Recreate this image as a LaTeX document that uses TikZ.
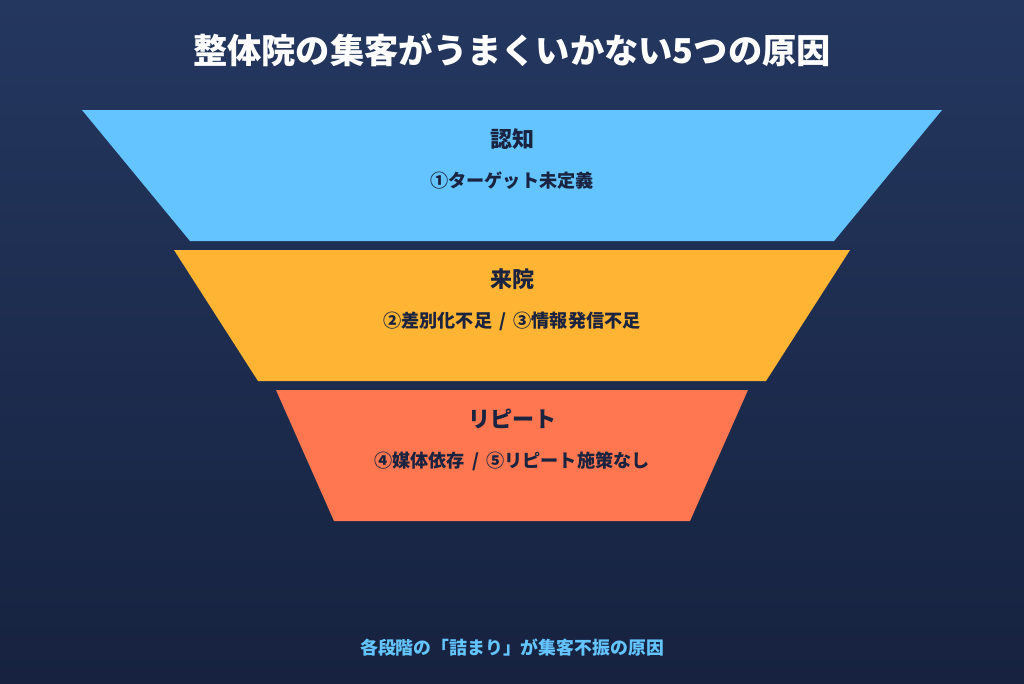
\documentclass[tikz,border=0pt]{standalone}
\usepackage{fontspec}
\setmainfont{Noto Sans CJK JP}
\usepackage{xcolor}
\usepackage{tikz}
\usetikzlibrary{positioning}

\definecolor{bgtop}{HTML}{24375F}
\definecolor{bgbot}{HTML}{16223F}
\definecolor{ninchi}{HTML}{64C4FF}
\definecolor{raiin}{HTML}{FFB433}
\definecolor{repeat}{HTML}{FF7750}
\definecolor{ink}{HTML}{1A2340}

\newcommand{\sepslash}{\hspace{0.4em}/\hspace{0.4em}}

\tikzset{
  stagetitle/.style={text=ink, font=\bfseries\fontsize{16.5}{18}\selectfont, inner sep=0pt},
  stagecause/.style={text=ink, font=\bfseries\fontsize{13.6}{15}\selectfont, inner sep=0pt},
}

\begin{document}
\begin{tikzpicture}[x=0.75pt, y=-0.75pt]

     % Background
     \shade[top color=bgtop, bottom color=bgbot] (0,0) rectangle (1024,683);
     \useasboundingbox (0,0) rectangle (1024,683);

     % Funnel stages
     \fill[ninchi] (82,110) -- (942,110) -- (834,241) -- (190,241) -- cycle;
     \fill[raiin]  (174,250) -- (850,250) -- (766,381) -- (258,381) -- cycle;
     \fill[repeat] (276,390) -- (748,390) -- (690,521) -- (334,521) -- cycle;

     % Define nodes
     \node[text=white, font=\bfseries\fontsize{25.7}{28}\selectfont] (title) at (512,50) {整体院の集客がうまくいかない5つの原因};
     \node[stagetitle] (s1) at (512,139) {認知};
     \node[stagecause, below=16.5pt of s1] (c1) {①ターゲット未定義};
     \node[stagetitle] (s2) at (512,279) {来院};
     \node[stagecause, below=16.5pt of s2] (c2) {②差別化不足\sepslash③情報発信不足};
     \node[stagetitle] (s3) at (512,419) {リピート};
     \node[stagecause, below=16.5pt of s3] (c3) {④媒体依存\sepslash⑤リピート施策なし};
     \node[text=ninchi, font=\bfseries\fontsize{13.4}{15}\selectfont] (note) at (512,648) {各段階の「詰まり」が集客不振の原因};

\end{tikzpicture}
\end{document}
